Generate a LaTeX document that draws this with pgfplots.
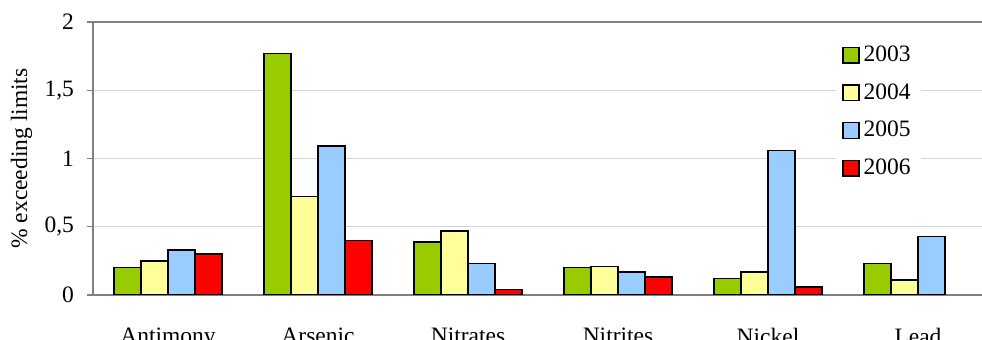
\documentclass[border=0pt]{standalone}
\usepackage{fontspec}
\setmainfont{Liberation Serif}
\usepackage{pgfplots}
\pgfplotsset{compat=1.18}
\definecolor{cA}{HTML}{99CC00}
\definecolor{cB}{HTML}{FFFF99}
\definecolor{cC}{HTML}{99CCFF}
\definecolor{cD}{HTML}{FF0000}
\definecolor{axgray}{HTML}{808080}
\definecolor{gridgray}{HTML}{D4D4D4}
\newcommand{\fsz}{\fontsize{11.75}{14}\selectfont}
\begin{document}
\begin{tikzpicture}
\begin{axis}[
  at={(0,0)}, anchor=south west,
  scale only axis, width=450pt, height=136.5pt,
  ybar=0pt, bar width=13.5pt,
  xmin=0.5, xmax=6.5, ymin=0, ymax=2,
  xtick={1,2,3,4,5,6},
  xticklabels={Antimony,Arsenic,Nitrates,Nitrites,Nickel,Lead},
  x tick label style={font=\fsz, yshift=-10pt},
  major x tick style={draw=none},
  extra x ticks={0.5,1.5,2.5,3.5,4.5,5.5},
  extra x tick labels={},
  extra x tick style={major tick length=3.5pt, tick align=outside, tick style={draw=axgray, line width=0.6pt}, grid=none},
  ytick={0,0.5,1,1.5,2},
  y tick label style={font=\fsz, xshift=-3pt},
  /pgf/number format/use comma,
  /pgf/number format/assume math mode=true,
  ymajorgrids, major grid style={draw=gridgray, line width=0.6pt},
  tick align=outside, major tick length=3pt,
  ytick style={draw=axgray, line width=0.6pt},
  axis line style={draw=axgray, line width=0.9pt},
  ylabel={\% exceeding limits},
  every axis y label/.style={at={(axis description cs:0,0.5)}, rotate=90, anchor=center, yshift=35.75pt, font=\fsz},
  every axis plot/.append style={draw=black, line width=0.75pt},
  legend style={at={(axis description cs:0.8256,0.943)}, anchor=north west, draw=none, fill=white, font=\fsz, row sep=5.5pt, inner sep=2pt, inner xsep=3pt},
  legend cell align=left,
  legend image code/.code={\draw[#1, line width=0.75pt] (0.5pt,-3.9pt) rectangle (8.3pt,3.9pt);},
]
\addplot[fill=cA] coordinates {(1,0.20) (2,1.77) (3,0.39) (4,0.20) (5,0.12) (6,0.23)};
\addplot[fill=cB] coordinates {(1,0.25) (2,0.72) (3,0.47) (4,0.21) (5,0.17) (6,0.11)};
\addplot[fill=cC] coordinates {(1,0.33) (2,1.09) (3,0.23) (4,0.17) (5,1.06) (6,0.43)};
\addplot[fill=cD] coordinates {(1,0.30) (2,0.40) (3,0.04) (4,0.13) (5,0.06)};
\legend{2003,2004,2005,2006}
\end{axis}
\pgfresetboundingbox
\useasboundingbox (-46.5pt,-22.5pt) rectangle (444.5pt,147.5pt);
\end{tikzpicture}
\end{document}
